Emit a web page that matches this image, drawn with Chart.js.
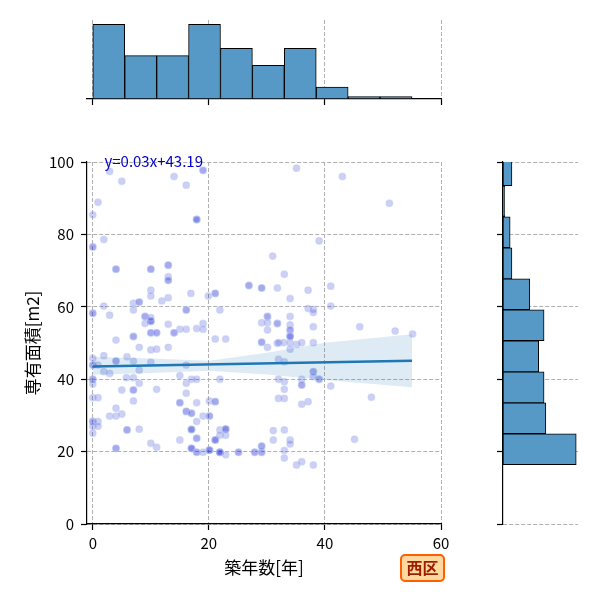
<!DOCTYPE html>
<html>
<head>
<meta charset="utf-8">
<script src="https://cdn.jsdelivr.net/npm/chart.js@4/dist/chart.umd.min.js"></script>
<style>
body { margin: 0; background: #fff; }
#wrap { position: relative; width: 600px; height: 600px; }
#wrap canvas { position: absolute; left: 0; top: 0; }
#badge {
    position: absolute; left: 400px; top: 554px; width: 41px; height: 24px;
    border: 2.5px solid #ff5f00; border-radius: 5px; background: #ffd8a0;
    color: #9c1c00; font: bold 16px 'Noto Sans CJK JP', sans-serif;
    text-align: center; line-height: 23px;
}
</style>
</head>
<body>
<div id="wrap">
    <canvas id="topHist" width="600" height="600"></canvas>
    <canvas id="rightHist" width="600" height="600"></canvas>
    <canvas id="main" width="600" height="600"></canvas>
    <div id="badge">西区</div>
</div>
<script>
// Tick labels
const yearTicks = [0, 20, 40, 60];
const areaTicks = [0, 20, 40, 60, 80, 100];

// Scatter points: 築年数, 専有面積, how many points share the spot
const ptX = [
    2.9, 5.0, 14.0, 16.1, 19.0, 0.9, 0.0, 17.9, 1.9, 0.0, 31.0, 4.0, 10.0, 13.0, 13.0, 13.0, 10.0, 10.0, 13.0, 11.9, 16.9, 19.9, 21.1, 26.9, 29.1, 31.8,
    1.9, 0.0, 2.9, 7.0, 8.0, 7.0, 9.0, 10.0, 9.0, 10.0, 10.0, 11.0, 13.0, 14.0, 15.0, 16.1, 16.1, 17.9, 19.0, 19.0, 21.9, 30.1, 29.1, 30.1, 31.8, 30.1, 7.0, 4.0,
    35.1, 43.0, 51.1, 39.0, 33.0, 37.1, 41.0, 34.0, 37.1, 38.0, 38.0, 41.0, 34.0, 34.0, 34.0, 34.0, 38.0, 46.0, 52.1, 55.1,
    8.0, 10.0, 11.0, 13.0, 21.1, 22.9, 29.1, 30.1, 31.8, 0.0, 0.0, 0.9, 1.9, 1.9, 2.9, 4.0, 5.9, 7.0, 10.0, 8.0, 16.1,
    0.0, 0.0, 5.8, 7.0, 8.0, 5.0, 7.0, 11.0, 15.0, 16.1, 17.0, 17.9, 16.1, 21.9, 0.0, 0.9, 7.0, 15.0, 17.9, 20.1, 21.1, 4.0,
    2.9, 4.0, 5.0, 0.0, 0.9, 0.0, 0.9, 0.0, 16.1, 17.0, 17.9, 19.0, 20.1, 5.9, 8.0, 15.0, 17.0, 17.9, 21.1, 21.9, 22.9, 21.9, 22.9, 10.0, 11.0, 4.0,
    17.0, 17.9, 19.0, 20.1, 21.9, 22.9, 25.1, 27.9, 29.1, 29.1,
    32.0, 32.9, 34.0, 35.1, 36.0, 38.0, 34.0, 34.0, 32.0, 33.0, 38.0, 39.0, 32.0, 33.0, 36.0, 36.0, 33.0, 41.0, 38.0, 32.0, 33.0, 36.0, 37.1, 48.0, 31.1, 33.0, 31.1, 34.0, 34.0, 33.0, 33.0, 35.1, 36.0, 38.0, 45.1
];
const ptY = [
    97.4, 94.7, 96.0, 93.6, 97.7, 88.9, 85.4, 84.1, 78.6, 76.5, 74.0, 70.4, 70.4, 71.5, 68.3, 67.3, 64.6, 63.0, 62.5, 61.6, 63.7, 63.0, 63.7, 65.9, 65.2, 65.2,
    60.2, 58.2, 57.7, 61.0, 61.3, 59.1, 57.3, 56.0, 55.4, 57.0, 52.8, 52.8, 55.2, 52.8, 53.8, 53.8, 59.1, 54.0, 55.4, 53.8, 59.1, 57.3, 55.6, 55.6, 55.4, 53.6, 51.8, 50.8,
    98.3, 96.0, 88.6, 78.2, 69.0, 64.6, 65.7, 62.3, 59.5, 59.3, 58.4, 60.2, 57.3, 55.0, 53.6, 52.0, 54.5, 54.5, 53.3, 52.5,
    48.8, 48.1, 48.3, 48.8, 51.1, 51.1, 50.2, 48.8, 49.9, 45.8, 43.9, 43.9, 46.5, 42.1, 41.6, 45.0, 46.2, 45.0, 44.7, 42.5, 43.9,
    40.0, 38.7, 40.4, 40.4, 38.9, 37.0, 37.0, 37.2, 41.0, 38.9, 40.0, 40.0, 36.1, 40.0, 34.9, 34.9, 34.0, 33.5, 33.5, 34.0, 33.8, 32.0,
    29.8, 29.8, 30.4, 28.3, 28.3, 27.0, 27.0, 25.1, 31.1, 30.6, 28.3, 29.8, 29.8, 26.0, 26.2, 23.2, 26.1, 23.7, 23.2, 26.0, 26.2, 24.5, 24.5, 22.3, 21.2, 20.9,
    20.9, 19.8, 19.8, 20.4, 19.8, 19.1, 19.8, 19.8, 19.8, 21.5,
    50.1, 50.1, 50.1, 49.6, 50.1, 50.1, 48.3, 51.8, 45.5, 44.8, 42.1, 40.0, 40.0, 39.3, 40.0, 38.4, 37.2, 38.1, 40.7, 34.7, 34.7, 33.1, 33.8, 35.0, 25.8, 26.0, 23.2, 23.2, 22.1, 20.3, 18.2, 16.3, 17.2, 16.3, 23.4
];
const ptN = [
    1, 1, 1, 1, 2, 1, 1, 3, 1, 2, 1, 2, 2, 2, 1, 2, 1, 1, 1, 1, 1, 1, 2, 2, 2, 1,
    1, 2, 1, 1, 2, 1, 2, 3, 1, 1, 2, 2, 1, 2, 1, 1, 2, 1, 1, 1, 1, 2, 1, 1, 2, 1, 2, 1,
    1, 1, 1, 1, 1, 1, 1, 1, 1, 1, 1, 1, 1, 1, 2, 1, 1, 1, 1, 1,
    1, 1, 1, 1, 1, 1, 2, 1, 1, 1, 2, 1, 1, 1, 1, 2, 1, 1, 1, 1, 1,
    2, 1, 1, 1, 1, 1, 2, 1, 1, 1, 1, 1, 1, 1, 1, 1, 1, 2, 1, 1, 2, 1,
    1, 1, 1, 2, 1, 1, 1, 1, 2, 2, 1, 1, 2, 2, 1, 1, 3, 2, 3, 1, 3, 1, 1, 1, 1, 2,
    3, 2, 1, 3, 4, 1, 2, 2, 2, 2,
    1, 1, 1, 1, 1, 1, 1, 2, 1, 1, 2, 2, 1, 1, 1, 2, 1, 1, 1, 1, 1, 1, 1, 1, 1, 1, 1, 1, 1, 1, 1, 1, 1, 1, 1
];

// Regression line and its confidence band
const fitX = [0, 55];
const fitY = [43.5, 45.1];
const bandX = [0, 10, 20, 30, 40, 55];
const bandUpper = [46.2, 45.7, 45.1, 47.3, 50.1, 52.4];
const bandLower = [41.2, 41.7, 42.3, 41.3, 39.8, 37.8];

// Marginal histograms (bin centres and counts)
const ageBinMid = [2.75, 8.25, 13.75, 19.25, 24.75, 30.25, 35.75, 41.25, 46.75, 52.25];
const ageCounts = [31, 18, 18, 31, 21, 14, 21, 5, 1, 1];
const areaBinMid = [20.65, 29.2, 37.75, 46.3, 54.9, 63.45, 72.0, 80.6, 89.2, 97.75];
const areaCounts = [41, 24, 23, 20, 23, 15, 5, 4, 1, 5];

const FONT = "'Noto Sans CJK JP', 'Noto Sans', sans-serif";
Chart.defaults.font.family = FONT;
Chart.defaults.color = '#000';
Chart.defaults.animation = false;
Chart.defaults.plugins.legend.display = false;
Chart.defaults.plugins.tooltip.enabled = false;

const GRID = '#b0b0b0';
const HIST = '#5799c6';

function fixTicks(values) {
    return scale => { scale.ticks = values.map(v => ({ value: v })); };
}

function axisLines() {
    return {
        grid: { color: GRID, lineWidth: 1, tickColor: '#000', tickLength: 6, tickWidth: 1.2, tickBorderDash: [], offset: false },
        border: { color: '#000', width: 1.2, dash: [4, 2] }
    };
}

const points = [];
ptX.forEach((x, i) => {
    for (let k = 0; k < ptN[i]; k++) points.push({ x: x, y: ptY[i] });
});

const fitLabel = {
    id: 'fitLabel',
    afterDatasetsDraw(chart) {
        const { ctx, scales: { x, y } } = chart;
        ctx.save();
        ctx.font = '15px ' + FONT;
        ctx.fillStyle = '#0000cd';
        ctx.textBaseline = 'middle';
        ctx.fillText('y=0.03x+43.19', x.getPixelForValue(2), y.getPixelForValue(100) - 1);
        ctx.restore();
    }
};

new Chart(document.getElementById('main'), {
    type: 'scatter',
    data: {
        datasets: [
            {
                data: fitX.map((x, i) => ({ x: x, y: fitY[i] })),
                showLine: true, borderColor: '#1f77b4', borderWidth: 2.5, pointRadius: 0, order: 1
            },
            {
                data: bandX.map((x, i) => ({ x: x, y: bandUpper[i] })),
                showLine: true, borderColor: 'rgba(0,0,0,0)', pointRadius: 0,
                fill: '+1', backgroundColor: 'rgba(31,119,180,0.15)', order: 2
            },
            {
                data: bandX.map((x, i) => ({ x: x, y: bandLower[i] })),
                showLine: true, borderColor: 'rgba(0,0,0,0)', pointRadius: 0, order: 2
            },
            {
                data: points,
                pointRadius: 3.3, borderWidth: 1.3,
                backgroundColor: 'rgba(0,0,205,0.19)', borderColor: 'rgba(175,195,240,0.45)', order: 3
            }
        ]
    },
    options: {
        responsive: false,
        layout: { padding: { left: 0, top: 162, right: 159, bottom: 0 } },
        scales: {
            x: {
                type: 'linear', min: -1, max: 60,
                afterBuildTicks: fixTicks(yearTicks),
                afterFit: s => { s.height = 76; },
                ...axisLines(),
                ticks: { font: { size: 15 }, padding: 4, maxRotation: 0 },
                title: { display: true, text: '築年数[年]', font: { size: 17 }, padding: { top: 0, bottom: 22 } }
            },
            y: {
                type: 'linear', min: 0, max: 100,
                afterBuildTicks: fixTicks(areaTicks),
                afterFit: s => { s.width = 87; },
                ...axisLines(),
                ticks: { font: { size: 15 }, padding: 7 },
                title: { display: true, text: '専有面積[m2]', font: { size: 17 }, padding: { top: 22, bottom: 0 } }
            }
        }
    },
    plugins: [fitLabel]
});

// Top marginal: 築年数 histogram
new Chart(document.getElementById('topHist'), {
    type: 'bar',
    data: {
        datasets: [{
            data: ageBinMid.map((x, i) => ({ x: x, y: ageCounts[i] })),
            backgroundColor: HIST, borderColor: '#000', borderWidth: 1, borderSkipped: false,
            barPercentage: 1, categoryPercentage: 1, clip: 0
        }]
    },
    options: {
        responsive: false,
        layout: { padding: { left: 87, right: 159, top: 20, bottom: 490 } },
        scales: {
            x: {
                type: 'linear', min: -1, max: 60, offset: false,
                afterBuildTicks: fixTicks(yearTicks),
                afterFit: s => { s.height = 11; },
                ...axisLines(),
                ticks: { display: false }
            },
            y: { type: 'linear', min: 0, max: 32.8, display: false }
        }
    }
});

// Right marginal: 専有面積 histogram
new Chart(document.getElementById('rightHist'), {
    type: 'bar',
    data: {
        datasets: [{
            data: areaBinMid.map((y, i) => ({ x: areaCounts[i], y: y })),
            backgroundColor: HIST, borderColor: '#000', borderWidth: 1, borderSkipped: false,
            barPercentage: 1, categoryPercentage: 1, clip: 0
        }]
    },
    options: {
        responsive: false,
        indexAxis: 'y',
        layout: { padding: { left: 497, right: 22, top: 162, bottom: 76 } },
        scales: {
            y: {
                type: 'linear', min: 0, max: 100, offset: false,
                afterBuildTicks: fixTicks(areaTicks),
                afterFit: s => { s.width = 6; },
                ...axisLines(),
                ticks: { display: false }
            },
            x: { type: 'linear', min: 0, max: 42, display: false }
        }
    }
});
</script>
</body>
</html>
